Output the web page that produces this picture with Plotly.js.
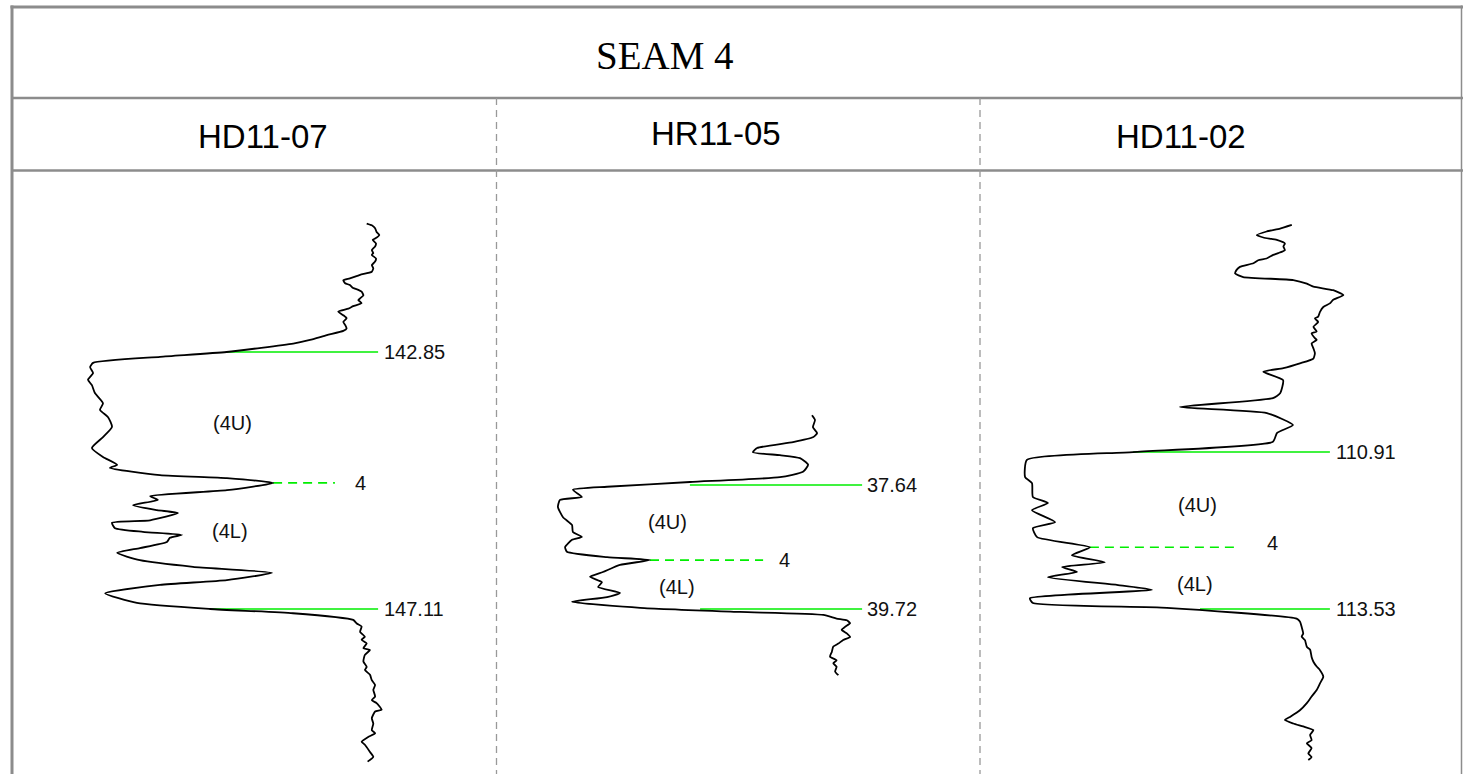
<!DOCTYPE html>
<html>
<head>
<meta charset="utf-8">
<script src="https://cdn.plot.ly/plotly-3.0.1.min.js"></script>
<style>
  html, body { margin: 0; padding: 0; background: #ffffff; }
  #chart { width: 1463px; height: 774px; }
</style>
</head>
<body>
<div id="chart"></div>
<script>
// ---------------- DATA ----------------
const chartTitle = 'SEAM 4';
const wellNames = ['HD11-07', 'HR11-05', 'HD11-02'];

// Seam picks (depth, m)
const seamTop   = [142.85, 37.64, 110.91];
const seamSplit = [145.02, 38.90, 112.50];
const seamBase  = [147.11, 39.72, 113.53];
const topLabels   = ['142.85', '37.64', '110.91'];
const baseLabels  = ['147.11', '39.72', '113.53'];
const splitLabel  = '4';
const upperLabel  = '(4U)';
const lowerLabel  = '(4L)';

// Well HD11-07 log (depth m, gamma API)
const well1Depth = [140.72,140.75,140.80,140.86,140.91,140.97,140.99,141.05,141.10,141.16,
  141.21,141.24,141.30,141.35,141.41,141.46,141.52,141.57,141.63,141.66,141.71,141.74,141.79,
  141.82,141.85,141.91,141.96,141.99,142.04,142.09,142.13,142.18,142.24,142.29,142.35,142.40,
  142.46,142.50,142.57,142.65,142.71,142.85,
  142.93,143.03,143.10,143.20,143.31,143.40,143.53,143.70,143.81,143.93,144.09,144.26,144.44,
  144.59,144.72,144.77,144.89,144.94,145.02,145.14,145.24,145.30,145.39,145.47,145.52,145.64,
  145.68,145.77,145.83,145.88,145.93,146.00,146.10,146.18,146.30,146.41,146.51,146.63,146.71,
  146.85,147.01,147.11,147.18,
  147.29,147.35,147.40,147.49,147.57,147.62,147.68,147.76,147.79,147.87,147.98,148.07,148.12,
  148.20,148.29,148.37,148.45,148.56,148.62,148.67,148.78,148.81,148.92,149.01,149.12,149.17,
  149.23,149.31,149.36,149.48,149.56,149.64];
const well1GR = [117.9,119.6,120.7,121.2,122.1,120.7,119.9,121.0,120.7,119.6,
  120.1,119.6,121.0,120.7,119.6,120.1,119.6,115.7,112.3,110.1,110.7,112.3,113.4,
  115.1,116.2,116.8,115.7,115.1,116.2,113.4,111.8,108.4,110.1,111.2,110.1,110.7,
  111.2,110.1,104.6,99.0,93.4,71.2,
  49.0,26.7,25.7,26.7,25.0,26.3,27.3,30.0,29.0,31.7,33.0,30.0,26.3,
  30.0,34.7,32.3,49.0,71.3,86.7,71.3,45.7,48.3,40.0,48.0,55.0,45.7,
  33.0,34.0,43.3,56.3,52.3,51.3,42.3,34.7,42.3,60.0,86.3,71.3,49.0,
  30.7,41.3,65.7,93.3,
  113.4,114.6,116.2,115.7,117.3,116.2,117.9,116.8,119.0,117.3,116.8,117.9,117.3,
  119.0,119.6,120.7,120.1,120.7,119.6,121.2,122.9,120.7,119.6,120.1,119.6,120.7,
  118.4,116.2,117.3,119.0,120.1,118.2];

// Well HR11-05 log
const well2Depth = [36.47,36.55,36.67,36.77,36.84,36.92,37.02,37.09,37.14,37.19,37.30,37.42,
  37.51,37.59,37.67,37.72,37.84,37.89,38.01,38.18,38.31,38.43,38.51,38.56,38.68,38.76,38.85,
  38.90,38.98,39.10,39.18,39.27,39.35,39.45,39.52,39.60,39.70,39.77,
  39.82,39.88,39.91,39.96,40.02,40.07,40.13,40.19,40.24,40.30,40.35,40.44,40.52,40.58,40.63,
  40.69,40.77,40.83];
const well2GR = [105.0,106.0,105.3,106.7,105.3,98.7,86.7,85.3,94.3,101.0,103.7,102.0,
  94.3,64.3,36.7,25.3,28.3,21.0,20.3,22.0,25.0,25.3,28.3,25.0,22.7,23.3,36.7,
  51.0,41.0,35.3,31.0,35.0,33.7,41.0,36.7,25.0,47.7,81.0,
  108.8,113.2,116.6,117.7,116.0,114.9,116.6,117.7,115.4,113.8,112.1,111.6,111.0,113.2,112.1,
  113.2,112.7,113.8];

// Well HD11-02 log
const well3Depth = [107.12,107.18,107.23,107.29,107.33,107.37,107.43,107.48,107.54,107.59,
  107.62,107.68,107.71,107.76,107.82,107.87,107.93,107.99,108.04,108.10,108.15,108.21,
  108.29,108.37,108.43,108.49,108.57,108.65,108.68,108.74,108.82,108.90,108.93,109.01,109.04,
  109.10,109.18,109.26,109.35,109.43,109.51,109.57,
  109.71,109.93,110.01,110.16,110.26,110.46,110.59,110.74,110.91,111.04,111.33,111.43,111.66,
  111.76,111.88,112.08,112.18,112.33,112.50,112.63,112.75,112.83,112.91,113.00,113.13,113.21,
  113.35,113.43,113.51,
  113.69,113.74,113.83,113.94,113.99,114.05,114.16,114.21,114.33,114.41,114.49,114.55,114.66,
  114.77,114.88,114.99,115.10,115.22,115.33,115.38,115.44,115.49,115.55,115.63,115.72,115.77,
  115.85,115.94,116.00,116.05];
const well3GR = [103.6,99.7,95.2,91.9,94.1,98.6,101.3,100.8,101.3,99.1,
  97.4,95.2,92.4,90.8,86.3,85.2,84.7,87.4,104.1,108.6,110.8,117.4,
  120.8,117.4,116.3,114.1,113.0,112.4,111.3,112.4,110.8,111.9,110.2,111.3,111.9,
  110.2,110.8,111.3,110.8,106.3,100.8,94.1,
  100.7,99.7,97.3,66.3,95.3,104.0,98.7,97.3,50.7,15.3,14.7,17.0,17.3,
  22.3,17.0,24.7,17.3,18.7,36.3,30.3,41.3,27.0,32.0,22.3,45.7,57.0,
  16.3,17.3,62.0,
  105.2,106.3,106.9,107.4,106.9,108.0,108.6,109.7,110.2,110.8,111.9,113.0,114.1,
  113.0,111.9,110.2,108.6,106.3,103.0,101.3,104.1,107.4,110.8,109.7,110.2,108.6,
  110.2,109.1,110.2,109.1];

// ---------------- LAYOUT CONFIG (positions / styles) ----------------
const W = 1463, H = 774;
const px = v => v / W;
const py = v => 1 - v / H;
const panels = [
  { left: 13,  right: 496,  xr: [0, 161], yr: [149.845, 139.866], headerX: 263,  headerY: 136,
    topX: [71.3, 121.7], splitX: [86.7, 107.3], baseX: [65.7, 121.7], numX: 123.0, fourX: 115.7,
    upX: 73.0, upD: 144.03, loX: 72.3, loD: 145.82, fourDy: 0 },
  { left: 497, right: 980,  xr: [0, 161], yr: [42.488, 32.390],    headerX: 716,  headerY: 133,
    topX: [64.3, 121.7], splitX: [51.0, 88.7],  baseX: [67.7, 121.7], numX: 122.7, fourX: 95.7,
    upX: 56.7, upD: 38.26, loX: 60.0, loD: 39.35, fourDy: 0 },
  { left: 981, right: 1461, xr: [0, 160], yr: [116.283, 106.237],  headerX: 1181, headerY: 137,
    topX: [50.7, 116.3], splitX: [36.3, 84.3],  baseX: [73.0, 116.3], numX: 117.7, fourX: 97.3,
    upX: 72.3, upD: 111.79, loX: 71.3, loD: 113.11, fourDy: -0.07 }
];
const depths = [well1Depth, well2Depth, well3Depth];
const grs = [well1GR, well2GR, well3GR];
const GREEN = '#00ee00';
const FRAME = '#8c8c8c';
const TXT_FONT = 'Liberation Sans, Arial, sans-serif';

const traces = [];
const annotations = [];
const layout = {
  width: W, height: H,
  margin: { l: 0, r: 0, t: 0, b: 0, pad: 0 },
  paper_bgcolor: '#ffffff', plot_bgcolor: 'rgba(0,0,0,0)',
  showlegend: false,
  shapes: [],
  annotations: annotations
};

panels.forEach((p, i) => {
  const n = i === 0 ? '' : String(i + 1);
  const xa = 'x' + n, ya = 'y' + n;
  layout['xaxis' + n] = { domain: [px(p.left), px(p.right)], range: p.xr, visible: false,
    showgrid: false, zeroline: false, fixedrange: true, anchor: ya };
  layout['yaxis' + n] = { domain: [0, py(172)], range: p.yr, visible: false,
    showgrid: false, zeroline: false, fixedrange: true, anchor: xa };

  // green pick lines (behind curve)
  traces.push({ x: p.topX, y: [seamTop[i], seamTop[i]], xaxis: xa, yaxis: ya, mode: 'lines',
    line: { color: GREEN, width: 1.6 }, hoverinfo: 'skip' });
  traces.push({ x: p.baseX, y: [seamBase[i], seamBase[i]], xaxis: xa, yaxis: ya, mode: 'lines',
    line: { color: GREEN, width: 1.6 }, hoverinfo: 'skip' });
  traces.push({ x: p.splitX, y: [seamSplit[i], seamSplit[i]], xaxis: xa, yaxis: ya, mode: 'lines',
    line: { color: GREEN, width: 1.6, dash: '9px,6px' }, hoverinfo: 'skip' });

  // log curve
  traces.push({ x: grs[i], y: depths[i], xaxis: xa, yaxis: ya, mode: 'lines',
    line: { color: '#000000', width: 1.8, shape: 'spline', smoothing: 0.5 }, hoverinfo: 'skip' });

  // labels
  const lab = (text, x, y, anchor) => annotations.push({ text: text, x: x, y: y, xref: xa, yref: ya,
    showarrow: false, xanchor: anchor, yanchor: 'middle',
    font: { family: TXT_FONT, size: 20, color: '#111111' } });
  lab(topLabels[i], p.numX, seamTop[i], 'left');
  lab(baseLabels[i], p.numX, seamBase[i], 'left');
  lab(splitLabel, p.fourX, seamSplit[i] + p.fourDy, 'center');
  lab(upperLabel, p.upX, p.upD, 'center');
  lab(lowerLabel, p.loX, p.loD, 'center');

  // header
  annotations.push({ text: wellNames[i], x: px(p.headerX), y: py(p.headerY), xref: 'paper', yref: 'paper',
    showarrow: false, xanchor: 'center', yanchor: 'middle',
    font: { family: TXT_FONT, size: 33, color: '#000000' } });
});

// title
annotations.push({ text: chartTitle, x: px(665), y: py(55), xref: 'paper', yref: 'paper',
  showarrow: false, xanchor: 'center', yanchor: 'middle',
  font: { family: 'Liberation Serif, Times New Roman, serif', size: 39, color: '#000000' } });

// frame
const seg = (x0, y0, x1, y1, w, dash, color) => layout.shapes.push({ type: 'line', xref: 'paper', yref: 'paper',
  x0: px(x0), y0: py(y0), x1: px(x1), y1: py(y1), line: { color: color || FRAME, width: w, dash: dash || 'solid' } });
seg(10.5, 7, 1463, 7, 3);
seg(12, 5.5, 12, 774, 3);
seg(12, 98, 1463, 98, 2.5);
seg(12, 170.5, 1463, 170.5, 2.5);
seg(1461.5, 5.5, 1461.5, 774, 1.5);
seg(496.5, 98, 496.5, 774, 1.3, '7px,5px', '#999999');
seg(980, 98, 980, 774, 1.3, '7px,5px', '#999999');

Plotly.newPlot('chart', traces, layout, { staticPlot: true, displayModeBar: false });
</script>
</body>
</html>
